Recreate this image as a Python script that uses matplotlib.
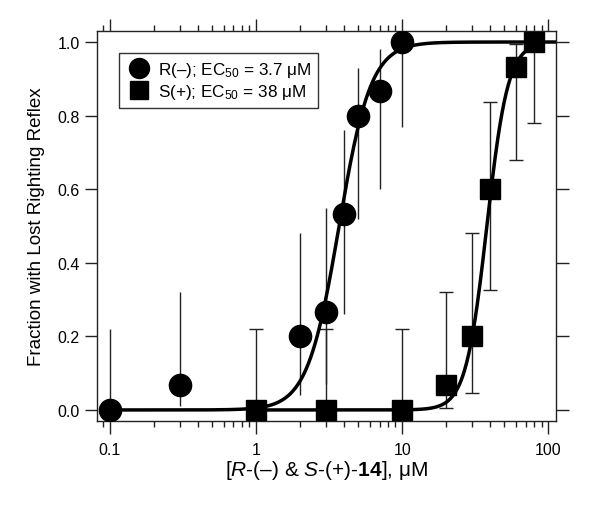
import numpy as np
import matplotlib
matplotlib.use("Agg")
import matplotlib.pyplot as plt
from matplotlib.ticker import LogLocator, NullFormatter

plt.rcParams['font.family'] = ['Liberation Sans', 'DejaVu Sans']
plt.rcParams['mathtext.fontset'] = 'custom'
plt.rcParams['mathtext.rm'] = 'Liberation Sans'
plt.rcParams['mathtext.it'] = 'Liberation Sans:italic'
plt.rcParams['mathtext.bf'] = 'Liberation Sans:bold'

# R(-) data
r_conc = [0.1, 0.3, 2, 3, 4, 5, 7, 10]
r_frac = [0.0, 0.067, 0.2, 0.267, 0.533, 0.8, 0.867, 1.0]
r_lo = [0.0, 0.01, 0.04, 0.07, 0.26, 0.52, 0.60, 0.77]
r_hi = [0.22, 0.32, 0.48, 0.55, 0.76, 0.93, 0.98, 1.0]

# S(+) data
s_conc = [1, 3, 10, 20, 30, 40, 60, 80]
s_frac = [0.0, 0.0, 0.0, 0.067, 0.2, 0.6, 0.933, 1.0]
s_lo = [0.0, 0.0, 0.0, 0.005, 0.046, 0.325, 0.68, 0.78]
s_hi = [0.22, 0.22, 0.22, 0.32, 0.48, 0.836, 0.995, 1.0]

# fitted Hill parameters
r_ec50, r_hill = 3.7, 4.0
s_ec50, s_hill = 38.0, 6.0

fig = plt.figure(figsize=(6.0, 5.06), dpi=100)
ax = fig.add_axes([0.1617, 0.166, 0.765, 0.7708])

xr = np.logspace(np.log10(0.1), np.log10(110), 400)
xs = np.logspace(np.log10(1), np.log10(85), 400)
ax.plot(xr, 1 / (1 + (r_ec50 / xr) ** r_hill), color='black', lw=2.5, zorder=2)
ax.plot(xs, 1 / (1 + (s_ec50 / xs) ** s_hill), color='black', lw=2.5, zorder=2)

r_err = [np.array(r_frac) - np.array(r_lo), np.array(r_hi) - np.array(r_frac)]
s_err = [np.array(s_frac) - np.array(s_lo), np.array(s_hi) - np.array(s_frac)]
ax.errorbar(r_conc, r_frac, yerr=r_err, fmt='none', ecolor='#222222', elinewidth=1.0, capsize=0, zorder=1)
ax.errorbar(s_conc, s_frac, yerr=s_err, fmt='none', ecolor='#222222', elinewidth=1.0, capsize=5, capthick=1.0, zorder=1)

ax.plot(r_conc, r_frac, 'o', color='black', ms=16, ls='none', zorder=3,
        label='R(–); EC$_{\\mathregular{50}}$ = 3.7 μM')
ax.plot(s_conc, s_frac, 's', color='black', ms=14, ls='none', zorder=3,
        label='S(+); EC$_{\\mathregular{50}}$ = 38 μM')

ax.set_xscale('log')
ax.set_xlim(0.0815, 113)
ax.set_ylim(-0.03, 1.03)
ax.set_xticks([0.1, 1, 10, 100])
ax.set_xticklabels(['0.1', '1', '10', '100'])
ax.xaxis.set_minor_locator(LogLocator(base=10, subs=np.arange(2, 10)))
ax.xaxis.set_minor_formatter(NullFormatter())
ax.set_yticks([0.0, 0.2, 0.4, 0.6, 0.8, 1.0])
ax.set_yticklabels(['0.0', '0.2', '0.4', '0.6', '0.8', '1.0'])

ax.tick_params(which='major', direction='out', length=9, width=1, labelsize=11.5,
               top=True, right=True, labeltop=False, labelright=False, color='#222222')
ax.tick_params(axis='x', which='major', pad=6)
ax.tick_params(which='minor', direction='out', length=4, width=1, top=True, color='#222222')
ax.tick_params(axis='y', which='minor', left=False, right=False)
for s in ax.spines.values():
    s.set_linewidth(1.0)
    s.set_color('#222222')

ax.set_ylabel('Fraction with Lost Righting Reflex', fontsize=13.5, labelpad=9)
ax.set_xlabel(r'[$\mathit{R}$-(–) & $\mathit{S}$-(+)-$\mathbf{14}$], μM', fontsize=15, labelpad=1)

leg = ax.legend(loc='upper left', bbox_to_anchor=(0.03, 0.965), fontsize=12.3, frameon=True,
                fancybox=False, edgecolor='black', handletextpad=0.35, borderpad=0.4,
                labelspacing=0.2, handlelength=1.5, markerscale=0.9)
leg.get_frame().set_linewidth(1.0)

fig.savefig('out.png', dpi=100)
